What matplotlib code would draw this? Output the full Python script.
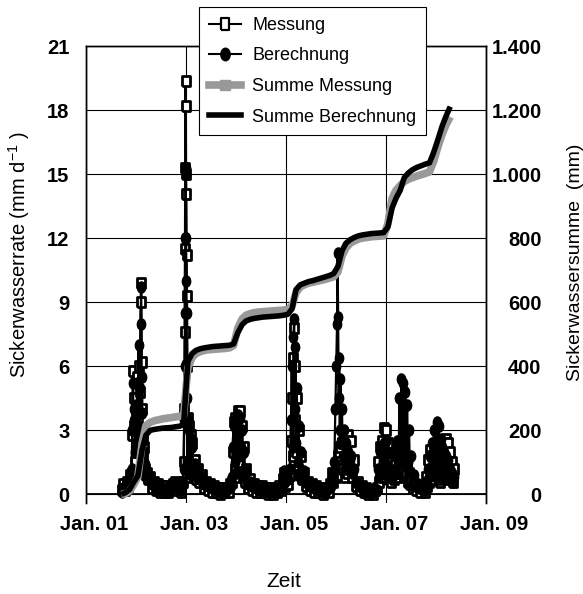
import pandas as pd
import matplotlib
matplotlib.use("Agg")
import matplotlib.pyplot as plt
import matplotlib.transforms as mtransforms
from matplotlib.path import Path
from matplotlib.lines import Line2D
from matplotlib.ticker import FuncFormatter

plt.rcParams["font.family"] = ["Liberation Sans", "DejaVu Sans"]
plt.rcParams["mathtext.default"] = "regular"

# Sickerwasserrate (mm/d), Messung und Berechnung
rate_dates = [
    "2001-09-20", "2001-10-01", "2001-10-12", "2001-10-24", "2001-11-05", "2001-11-18",
    "2001-12-01", "2001-12-05", "2001-12-10", "2001-12-15", "2001-12-20", "2001-12-25",
    "2001-12-30", "2002-01-05", "2002-01-10", "2002-01-15", "2002-01-20", "2002-01-25",
    "2002-01-30", "2002-02-04", "2002-02-08", "2002-02-12", "2002-02-16", "2002-02-20",
    "2002-02-25", "2002-03-02", "2002-03-08", "2002-03-15", "2002-03-22", "2002-03-30",
    "2002-04-10", "2002-04-25", "2002-05-10", "2002-05-25", "2002-06-10", "2002-06-25",
    "2002-07-10", "2002-07-25", "2002-08-10", "2002-08-25", "2002-09-10", "2002-09-25",
    "2002-10-10", "2002-10-25", "2002-11-10", "2002-11-25", "2002-12-08", "2002-12-15",
    "2002-12-20", "2002-12-23", "2002-12-25", "2002-12-27", "2002-12-29", "2002-12-31",
    "2003-01-02", "2003-01-04", "2003-01-06", "2003-01-09", "2003-01-12", "2003-01-15",
    "2003-01-19", "2003-01-24", "2003-01-29", "2003-02-04", "2003-02-10", "2003-02-17",
    "2003-02-24", "2003-03-05", "2003-03-15", "2003-03-28", "2003-04-10", "2003-04-25",
    "2003-05-10", "2003-05-25", "2003-06-10", "2003-06-25", "2003-07-10", "2003-07-25",
    "2003-08-10", "2003-08-25", "2003-09-10", "2003-09-25", "2003-10-10", "2003-10-25",
    "2003-11-10", "2003-11-22", "2003-12-01", "2003-12-08", "2003-12-15", "2003-12-22",
    "2003-12-29", "2004-01-05", "2004-01-12", "2004-01-19", "2004-01-26", "2004-02-02",
    "2004-02-09", "2004-02-16", "2004-02-23", "2004-03-01", "2004-03-08", "2004-03-17",
    "2004-03-27", "2004-04-10", "2004-04-25", "2004-05-10", "2004-05-25", "2004-06-10",
    "2004-06-25", "2004-07-10", "2004-07-25", "2004-08-10", "2004-08-25", "2004-09-10",
    "2004-09-25", "2004-10-10", "2004-10-25", "2004-11-10", "2004-11-25", "2004-12-08",
    "2004-12-18", "2004-12-28", "2005-01-08", "2005-01-18", "2005-01-28", "2005-02-06",
    "2005-02-12", "2005-02-18", "2005-02-24", "2005-03-02", "2005-03-06", "2005-03-11",
    "2005-03-16", "2005-03-21", "2005-03-27", "2005-04-03", "2005-04-10", "2005-04-18",
    "2005-04-28", "2005-05-10", "2005-05-25", "2005-06-10", "2005-06-25", "2005-07-10",
    "2005-07-25", "2005-08-10", "2005-08-25", "2005-09-10", "2005-09-25", "2005-10-10",
    "2005-10-25", "2005-11-08", "2005-11-20", "2005-12-01", "2005-12-10", "2005-12-20",
    "2005-12-28", "2006-01-04", "2006-01-09", "2006-01-13", "2006-01-17", "2006-01-21",
    "2006-01-25", "2006-01-29", "2006-02-03", "2006-02-08", "2006-02-14", "2006-02-20",
    "2006-02-27", "2006-03-06", "2006-03-14", "2006-03-22", "2006-04-01", "2006-04-10",
    "2006-04-20", "2006-05-01", "2006-05-12", "2006-05-25", "2006-06-10", "2006-06-25",
    "2006-07-10", "2006-07-25", "2006-08-10", "2006-08-25", "2006-09-10", "2006-09-25",
    "2006-10-10", "2006-10-25", "2006-11-05", "2006-11-12", "2006-11-19", "2006-11-26",
    "2006-12-03", "2006-12-10", "2006-12-17", "2006-12-24", "2006-12-31", "2007-01-07",
    "2007-01-14", "2007-01-21", "2007-01-31", "2007-02-10", "2007-02-20", "2007-03-01",
    "2007-03-10", "2007-03-18", "2007-03-26", "2007-04-03", "2007-04-10", "2007-04-17",
    "2007-04-24", "2007-05-01", "2007-05-08", "2007-05-15", "2007-05-22", "2007-05-29",
    "2007-06-05", "2007-06-12", "2007-06-19", "2007-06-26", "2007-07-05", "2007-07-15",
    "2007-07-28", "2007-08-10", "2007-08-25", "2007-09-10", "2007-09-25", "2007-10-10",
    "2007-10-20", "2007-10-28", "2007-11-05", "2007-11-12", "2007-11-19", "2007-11-26",
    "2007-12-03", "2007-12-10", "2007-12-17", "2007-12-24", "2007-12-31", "2008-01-07",
    "2008-01-14", "2008-01-21", "2008-01-28", "2008-02-04", "2008-02-11", "2008-02-18",
    "2008-02-25", "2008-03-03", "2008-03-10", "2008-03-17", "2008-03-24", "2008-03-31",
    "2008-04-07", "2008-04-14", "2008-04-21", "2008-04-28", "2008-05-05", "2008-05-12",
]
messung = [
    0.2, 0.5, 0.2, 0.6, 0.4, 0.9,
    1.0, 2.8, 5.8, 3.2, 4.5, 1.5,
    4.0, 2.2, 5.5, 3.0, 6.0, 2.5,
    4.8, 9.0, 9.9, 6.2, 4.0, 2.8,
    1.6, 2.2, 1.2, 0.9, 1.0, 0.7,
    0.8, 0.3, 0.6, 0.2, 0.5, 0.1,
    0.4, 0.1, 0.4, 0.1, 0.3, 0.5,
    0.6, 0.2, 0.5, 0.1, 0.6, 1.5,
    4.0, 7.6, 11.5, 15.3, 19.4, 18.2,
    15.0, 14.1, 11.2, 9.3, 6.0, 3.6,
    1.2, 3.2, 0.8, 2.8, 1.0, 2.4,
    0.9, 1.6, 0.7, 1.2, 0.6, 0.9,
    0.3, 0.6, 0.2, 0.5, 0.1, 0.4,
    0.1, 0.3, 0.0, 0.3, 0.1, 0.3,
    0.1, 0.5, 0.6, 2.0, 3.4, 1.2,
    3.6, 0.8, 3.0, 3.9, 1.5, 3.9,
    2.0, 3.2, 0.8, 2.2, 0.6, 1.2,
    0.3, 0.7, 0.2, 0.5, 0.1, 0.4,
    0.1, 0.4, 0.1, 0.3, 0.0, 0.3,
    0.0, 0.3, 0.1, 0.4, 0.2, 0.7,
    1.0, 0.4, 1.0, 0.5, 0.9, 2.5,
    4.5, 1.8, 6.4, 7.8, 3.5, 6.0,
    2.0, 4.5, 1.2, 3.0, 0.9, 1.8,
    0.7, 1.0, 0.4, 0.6, 0.2, 0.5,
    0.1, 0.4, 0.1, 0.3, 0.0, 0.2,
    0.3, 0.1, 0.5, 1.0, 0.6, 0.9,
    1.0, 0.8, 1.2, 1.5, 1.8, 1.2,
    2.0, 1.0, 2.2, 0.9, 2.4, 1.2,
    2.5, 0.8, 2.6, 1.0, 2.8, 1.2,
    2.5, 0.8, 1.6, 0.4, 0.6, 0.2,
    0.4, 0.1, 0.3, 0.0, 0.2, 0.0,
    0.2, 0.3, 1.5, 0.6, 2.2, 1.0,
    2.5, 0.8, 3.1, 1.2, 3.0, 1.0,
    2.4, 0.7, 1.5, 0.6, 1.0, 0.7,
    1.5, 0.8, 2.0, 1.0, 2.2, 1.2,
    2.2, 1.0, 2.0, 0.8, 1.8, 0.9,
    1.5, 0.6, 1.0, 0.5, 0.6, 0.3,
    0.5, 0.2, 0.4, 0.1, 0.3, 0.1,
    0.8, 0.4, 1.6, 0.6, 2.1, 0.8,
    1.8, 0.7, 2.0, 0.9, 1.5, 2.2,
    0.8, 1.8, 0.6, 1.5, 0.7, 1.8,
    0.8, 2.2, 0.9, 2.6, 1.0, 2.4,
    0.7, 2.0, 0.8, 1.5, 0.6, 1.2,
]
berechnung = [
    0.1, 0.3, 0.4, 0.5, 0.6, 0.8,
    1.2, 3.0, 5.2, 3.5, 4.0, 2.0,
    4.2, 2.5, 5.2, 3.2, 7.0, 3.0,
    5.0, 8.0, 9.7, 5.5, 3.8, 2.5,
    1.8, 2.0, 1.4, 1.0, 0.9, 0.8,
    0.7, 0.5, 0.5, 0.3, 0.4, 0.2,
    0.3, 0.2, 0.2, 0.1, 0.3, 0.4,
    0.5, 0.3, 0.4, 0.2, 0.5, 1.2,
    3.5, 6.0, 8.5, 12.0, 15.3, 15.0,
    12.0, 10.0, 8.5, 6.0, 4.5, 3.5,
    1.5, 3.0, 1.0, 2.6, 1.3, 2.2,
    1.0, 1.4, 0.9, 1.1, 0.7, 0.8,
    0.5, 0.5, 0.4, 0.4, 0.3, 0.3,
    0.2, 0.2, 0.1, 0.2, 0.1, 0.2,
    0.3, 0.4, 0.8, 2.2, 3.2, 1.5,
    3.5, 1.0, 3.2, 3.7, 1.8, 3.6,
    2.2, 3.0, 1.0, 2.0, 0.8, 1.1,
    0.5, 0.6, 0.4, 0.4, 0.3, 0.3,
    0.2, 0.3, 0.2, 0.2, 0.1, 0.2,
    0.1, 0.2, 0.2, 0.3, 0.3, 0.6,
    1.1, 0.6, 0.9, 0.7, 1.2, 3.5,
    6.0, 2.2, 7.4, 8.2, 4.0, 6.9,
    2.4, 5.0, 1.5, 3.2, 1.0, 2.0,
    0.8, 1.1, 0.6, 0.5, 0.4, 0.4,
    0.3, 0.3, 0.2, 0.2, 0.1, 0.1,
    0.2, 0.3, 0.4, 0.6, 0.8, 1.5,
    4.0, 6.0, 8.0, 11.3, 8.3, 4.5,
    6.4, 3.0, 5.4, 2.5, 4.0, 1.8,
    3.0, 1.2, 2.4, 1.5, 2.0, 1.6,
    1.8, 1.0, 1.2, 0.6, 0.5, 0.4,
    0.3, 0.2, 0.2, 0.1, 0.1, 0.1,
    0.2, 0.2, 1.2, 0.8, 2.0, 1.2,
    2.2, 1.0, 2.4, 1.5, 2.5, 1.2,
    2.0, 0.9, 1.2, 0.8, 1.0, 0.9,
    1.8, 1.2, 2.5, 1.5, 4.5, 2.0,
    5.4, 2.5, 5.2, 2.0, 4.8, 1.8,
    4.2, 1.5, 3.0, 1.0, 1.8, 0.6,
    0.9, 0.4, 0.5, 0.3, 0.3, 0.2,
    0.6, 0.5, 1.2, 0.8, 1.8, 0.9,
    2.4, 1.0, 3.0, 1.2, 2.5, 3.4,
    1.4, 3.2, 1.0, 2.6, 1.0, 2.2,
    0.9, 2.0, 1.0, 1.8, 1.2, 1.6,
    0.9, 1.2, 0.7, 1.0, 0.6, 0.8,
]

# Sickerwassersumme (mm), monatlich ab Sep. 2001
sum_start = "2001-09-15"
summe_messung = [
    0, 2, 10, 30,
    55, 160, 215, 225, 230, 233, 236, 238, 240, 242, 244, 246,
    395, 428, 440, 446, 450, 452, 453, 454, 455, 456, 458, 465,
    520, 548, 560, 565, 568, 570, 571, 572, 573, 574, 575, 576,
    578, 590, 630, 648, 655, 660, 663, 666, 669, 672, 676, 680,
    695, 745, 770, 785, 792, 798, 801, 803, 805, 806, 807, 808,
    845, 925, 950, 965, 978, 985, 990, 995, 999, 1003, 1008, 1040,
    1085, 1125, 1155, 1180,
]
summe_berechnung = [
    0, 5, 15, 38,
    58, 140, 185, 200, 203, 205, 207, 208, 209, 211, 213, 218,
    415, 440, 450, 455, 458, 460, 462, 463, 464, 465, 466, 470,
    505, 530, 542, 547, 550, 552, 554, 555, 556, 557, 558, 560,
    563, 580, 640, 655, 660, 665, 668, 672, 676, 680, 684, 690,
    712, 762, 785, 796, 803, 808, 811, 813, 815, 816, 817, 818,
    835, 895, 925, 950, 990, 1005, 1015, 1022, 1027, 1032, 1036, 1068,
    1108, 1150, 1182, 1212,
]

year_ticks = ["2001-01-01", "2003-01-01", "2005-01-01", "2007-01-01", "2009-01-01"]
year_labels = ["Jan. 01", "Jan. 03", "Jan. 05", "Jan. 07", "Jan. 09"]
rate_ticks = [0, 3, 6, 9, 12, 15, 18, 21]
sum_ticks = [0, 200, 400, 600, 800, 1000, 1200, 1400]

rd = pd.to_datetime(rate_dates)
sd = pd.date_range(sum_start, periods=len(summe_berechnung), freq=pd.DateOffset(months=1))

# hohe Marker wie im Excel-Original
box = [(-0.8, -1), (0.8, -1), (0.8, 1), (-0.8, 1), (-0.8, -1)]
oval = Path.unit_circle().transformed(mtransforms.Affine2D().scale(0.75, 1.0))

fig = plt.figure(figsize=(5.83, 5.94), dpi=100)
ax = fig.add_axes([0.1475, 0.1534, 0.6861, 0.7684])
ax2 = ax.twinx()

ax.plot(rd, messung, color="black", lw=1.6, marker=box, ms=7.5, mfc="white",
        mec="black", mew=2.0, zorder=3)
ax.plot(rd, berechnung, color="black", lw=1.6, marker=oval, ms=8, mfc="black",
        mec="black", zorder=4)

ax2.plot(sd, summe_messung, color="#999999", lw=5.5, solid_capstyle="butt")
ax2.plot(sd, summe_berechnung, color="black", lw=4.0, solid_capstyle="butt")

ax.set_xlim(pd.Timestamp("2001-01-01"), pd.Timestamp("2009-01-01"))
ax.set_ylim(-0.4, 21)
ax2.set_ylim(-0.4 * 1400 / 21, 1400)

ax.set_xticks(pd.to_datetime(year_ticks))
ax.set_xticklabels(year_labels, fontsize=14.5, fontweight="bold")
ax.set_yticks(rate_ticks)
ax.set_yticklabels([str(t) for t in rate_ticks], fontsize=14.5, fontweight="bold")
ax2.set_yticks(sum_ticks)
ax2.yaxis.set_major_formatter(FuncFormatter(lambda v, p: f"{int(v):,}".replace(",", ".")))
for lab in ax2.get_yticklabels():
    lab.set_fontsize(14.5)
    lab.set_fontweight("bold")
    lab.set_horizontalalignment("right")

ax.tick_params(axis="x", length=0, pad=9)
ax.tick_params(axis="y", length=0, pad=12)
ax2.tick_params(axis="y", length=0, pad=40)
shift = mtransforms.ScaledTranslation(0.08, 0, fig.dpi_scale_trans)
for lab in ax.get_xticklabels():
    lab.set_transform(lab.get_transform() + shift)

ax.grid(True, color="black", lw=0.8)
ax.set_axisbelow(True)
ax.axhline(0, color="black", lw=1.3, zorder=2)
for a in (ax, ax2):
    a.spines["bottom"].set_visible(False)
    for s in ("left", "right", "top"):
        a.spines[s].set_linewidth(1.0)

ax.set_ylabel("Sickerwasserrate (mm d$^{-1}$ )", fontsize=14.5)
ax.yaxis.set_label_coords(-0.135, 0.543)
ax2.set_ylabel("Sickerwassersumme  (mm)", fontsize=14, rotation=90)
ax2.yaxis.set_label_coords(1.2025, 0.528)
ax.set_xlabel("Zeit", fontsize=15)
ax.xaxis.set_label_coords(0.495, -0.151)

handles = [
    Line2D([], [], color="black", lw=1.5, marker=box, ms=8, mfc="white", mec="black", mew=1.6),
    Line2D([], [], color="black", lw=1.5, marker=oval, ms=9, mfc="black", mec="black"),
    Line2D([], [], color="#999999", lw=5.5, marker="s", ms=7, mfc="#999999", mec="#999999"),
    Line2D([], [], color="black", lw=4.0),
]
labels = ["Messung", "Berechnung", "Summe Messung", "Summe Berechnung"]
leg = fig.legend(handles, labels, loc="upper left", bbox_to_anchor=(199 / 583, 1 - 7 / 594),
                 fontsize=13, frameon=True, fancybox=False, framealpha=1,
                 edgecolor="black", handlelength=1.8, handletextpad=0.6,
                 labelspacing=0.75, borderpad=0.55, borderaxespad=0)
leg.get_frame().set_linewidth(0.8)

fig.savefig("out.png", dpi=100)
